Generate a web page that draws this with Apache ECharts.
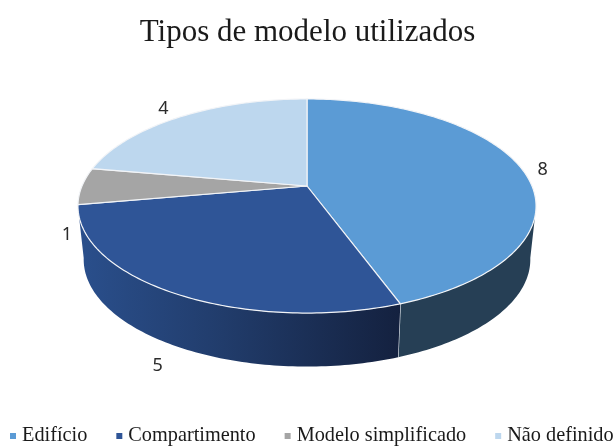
<!DOCTYPE html>
<html>
<head>
<meta charset="utf-8">
<style>
html, body { margin: 0; padding: 0; background: #fff; }
#chart { width: 615px; height: 446px; }
</style>
</head>
<body>
<div id="chart"></div>
<script src="https://cdn.jsdelivr.net/npm/echarts@6/dist/echarts.min.js"></script>
<script>
const categories = ["Edifício", "Compartimento", "Modelo simplificado", "Não definido"];
const values = [8, 5, 1, 4];
const topColors = ["#5b9bd5", "#2f5597", "#a5a5a5", "#bdd7ee"];

// ECharts has no 3D pie, so the tilted disc is projected by hand
const cx = 307, cy = 186, radius = 225, radiusY = 103.3, tilt = -0.187;
const depth = 53.5, bottomScale = 0.975;
const total = values.reduce((a, b) => a + b, 0);
const labelShift = [[21, 1], [-15, 73], [-15, 49], [-17, -8]];
const wallColors = [
    "#263f55",
    new echarts.graphic.LinearGradient(0, 0, 1, 0, [
        { offset: 0, color: "#2a4f8c" },
        { offset: 0.45, color: "#213c6b" },
        { offset: 1, color: "#14213f" },
    ]),
];

function rim(deg) {
    let a = deg * Math.PI / 180;
    let u = Math.sin(a), v = -Math.cos(a);
    let w = 1 + tilt * v;
    return [cx + radius * u / w, cy + radiusY * v / w];
}

function rimBottom(deg) {
    let p = rim(deg);
    return [cx + (p[0] - cx) * bottomScale, p[1] + depth];
}

function arc(fn, from, to) {
    let pts = [];
    let n = Math.max(2, Math.ceil(Math.abs(to - from)));
    for (let i = 0; i <= n; i++) {
        pts.push(fn(from + (to - from) * i / n));
    }
    return pts;
}

function renderSlice(params, api) {
    let i = params.seriesIndex;
    let start = api.value(0) / total * 360;
    let end = (api.value(0) + api.value(1)) / total * 360;
    let children = [];

    // only the front of the disc shows a wall
    let wallFrom = Math.max(start, 106), wallTo = Math.min(end, 254);
    if (wallTo > wallFrom) {
        let botFrom = wallFrom === 106 ? 100 : wallFrom;
        let botTo = wallTo === 254 ? 260 : wallTo;
        children.push({
            type: "polygon",
            shape: { points: arc(rim, wallFrom, wallTo).concat(arc(rimBottom, botTo, botFrom)) },
            style: { fill: wallColors[i] },
        });
        if (end < 254) {
            children.push({
                type: "line",
                shape: { x1: rim(end)[0], y1: rim(end)[1], x2: rimBottom(end)[0], y2: rimBottom(end)[1] },
                style: { stroke: "#e8ecf2", lineWidth: 1.2 },
            });
        }
    }

    children.push({
        type: "polygon",
        shape: { points: [[cx, cy]].concat(arc(rim, start, end)) },
        style: { fill: topColors[i], stroke: "#f2f4f7", lineWidth: 1.2 },
    });

    let mid = rim((start + end) / 2);
    children.push({
        type: "text",
        style: {
            x: mid[0] + labelShift[i][0],
            y: mid[1] + labelShift[i][1],
            text: String(api.value(1)),
            fill: "#2b2b2b",
            font: "18px 'Noto Sans'",
            align: "center",
            verticalAlign: "middle",
        },
    });
    return { type: "group", children: children };
}

let offset = 0;
const series = categories.map((name, i) => {
    let item = [offset, values[i]];
    offset += values[i];
    return {
        name: name,
        type: "custom",
        coordinateSystem: "none",
        renderItem: renderSlice,
        itemStyle: { color: topColors[i] },
        data: [item],
        silent: true,
    };
});

let myChart = echarts.init(document.getElementById("chart"));
myChart.setOption({
    animation: false,
    backgroundColor: "#fff",
    title: {
        text: "Tipos de modelo utilizados",
        left: "center",
        top: 12,
        textStyle: { fontFamily: "Liberation Serif", fontSize: 31, fontWeight: "normal", color: "#1a1a1a" },
    },
    legend: {
        data: categories,
        left: 10,
        top: 426,
        icon: "rect",
        itemWidth: 6,
        itemHeight: 6,
        itemGap: 29,
        padding: 0,
        textStyle: { fontFamily: "Liberation Serif", fontSize: 20.3, color: "#1a1a1a", padding: [0, 0, 0, 1] },
        selectedMode: false,
    },
    series: series,
});
</script>
</body>
</html>
